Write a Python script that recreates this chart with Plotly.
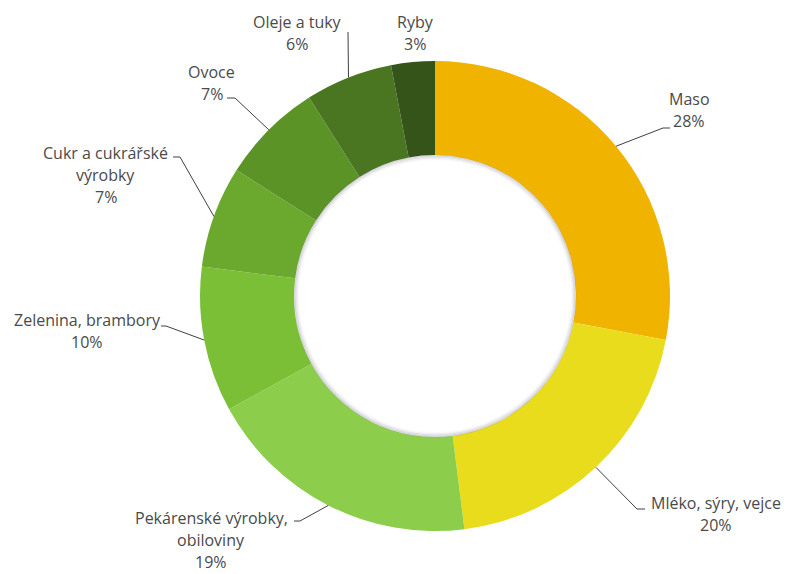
import math
import plotly.graph_objects as go

# Food spending shares (%)
categories = ["Maso", "Mléko, sýry, vejce", "Pekárenské výrobky, obiloviny",
              "Zelenina, brambory", "Cukr a cukrářské výrobky", "Ovoce",
              "Oleje a tuky", "Ryby"]
values = [28, 20, 19, 10, 7, 7, 6, 3]
label_lines = [["Maso"], ["Mléko, sýry, vejce"], ["Pekárenské výrobky,", "obiloviny"],
               ["Zelenina, brambory"], ["Cukr a cukrářské", "výrobky"], ["Ovoce"],
               ["Oleje a tuky"], ["Ryby"]]
colors = ["#F0B400", "#E8DC1C", "#8DCD4C", "#7BBF37", "#6AA82E",
          "#5B9327", "#4A7621", "#35541A"]

W, H = 787, 574
CX, CY, R, HOLE = 435, 296, 235, 0.6

# Label text centre (first line) and leader-line elbow, in pixels
label_pos = [(689, 99), (716, 503), (211, 518), (87, 320),
             (106, 153), (212, 72), (297, 22), (415, 22)]
elbows = [[(663, 128), (670, 128)], [(637, 509), (645, 509)],
          [(300, 521), (294, 521)], [(166, 326), (161, 326)],
          [(180, 157), (173, 157)], [(235, 98), (227, 98)],
          [(348, 32)], None]

LINE_H = 22


def px(x):
    return x / W


def py(y):
    return 1 - y / H


fig = go.Figure(go.Pie(
    labels=categories, values=values, hole=HOLE, sort=False,
    direction="clockwise", rotation=0,
    marker=dict(colors=colors, line=dict(width=0)),
    textinfo="none", hoverinfo="label+percent", showlegend=False,
    domain=dict(x=[px(CX - R), px(CX + R)], y=[py(CY + R), py(CY - R)]),
))

shapes = []
# soft shading just inside the hole
ri = R * HOLE
for k, a in enumerate([0.22, 0.14, 0.08, 0.04]):
    r = ri - 0.5 - k * 1.2
    shapes.append(dict(type="circle", xref="paper", yref="paper",
                       x0=px(CX - r), x1=px(CX + r), y0=py(CY + r), y1=py(CY - r),
                       line=dict(color=f"rgba(90,90,110,{a})", width=1.6)))

annotations = []
total = sum(values)
cum = 0
for i, v in enumerate(values):
    mid = (cum + v / 2) / total * 2 * math.pi
    cum += v
    sx = CX + R * math.sin(mid)
    sy = CY - R * math.cos(mid)
    if elbows[i]:
        pts = [(sx, sy)] + elbows[i]
        path = "M " + " L ".join(f"{px(x)},{py(y)}" for x, y in pts)
        shapes.append(dict(type="path", xref="paper", yref="paper", path=path,
                           line=dict(color="#404040", width=1)))
    lx, ly = label_pos[i]
    lines = label_lines[i] + [f"{v}%"]
    for j, t in enumerate(lines):
        annotations.append(dict(
            text=t, xref="paper", yref="paper", x=px(lx), y=py(ly + j * LINE_H),
            xanchor="center", yanchor="middle", showarrow=False,
            font=dict(family="Open Sans, sans-serif", size=16, color="#4a4a4a")))

fig.update_layout(
    width=W, height=H, margin=dict(l=0, r=0, t=0, b=0),
    paper_bgcolor="white", plot_bgcolor="white",
    shapes=shapes, annotations=annotations,
)

fig.write_html("out.html")
